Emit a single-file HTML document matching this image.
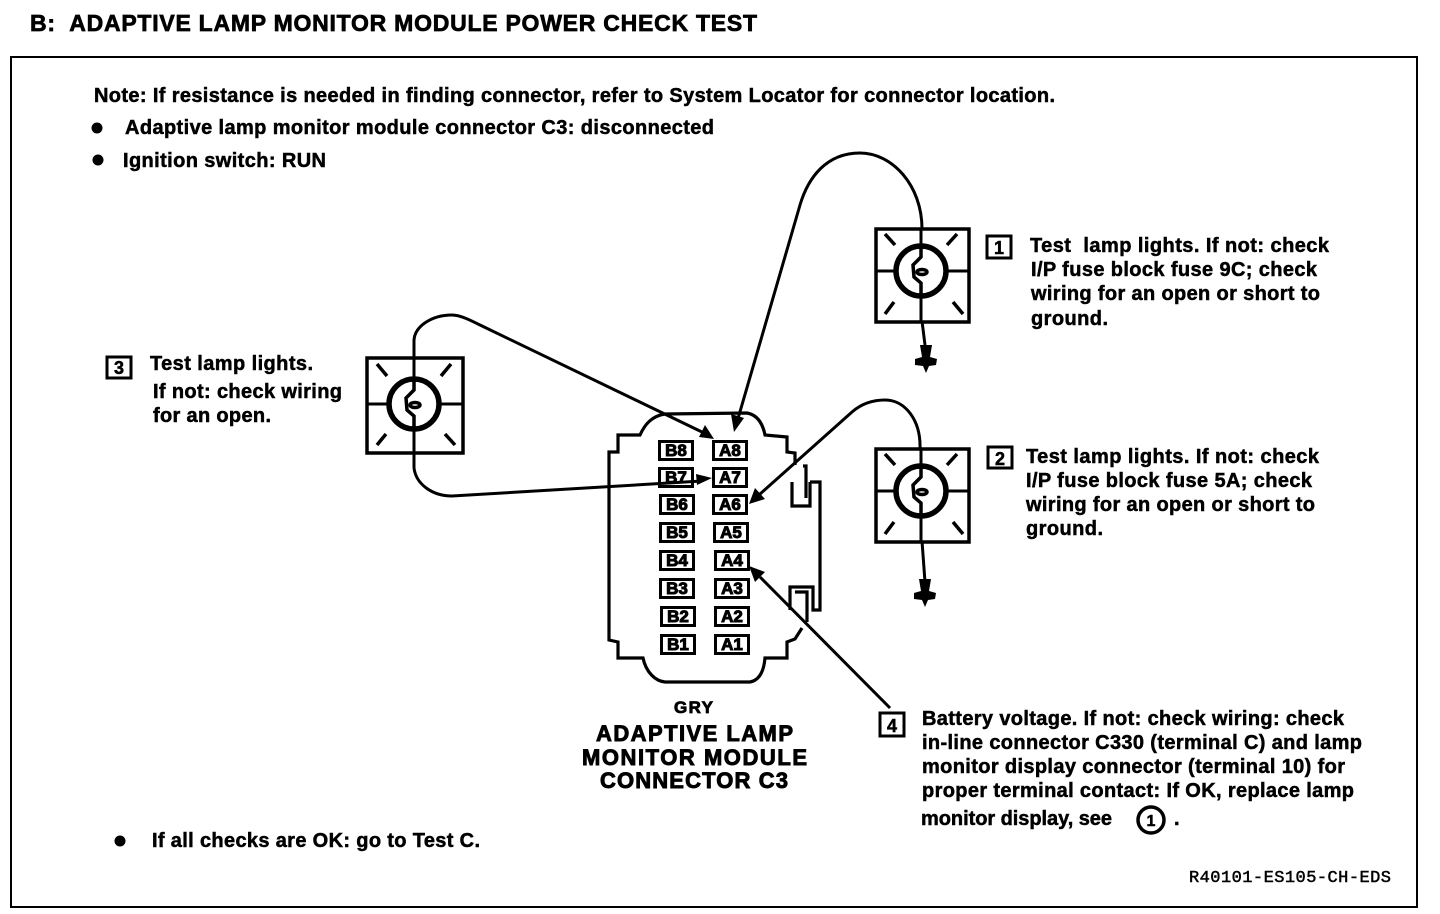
<!DOCTYPE html>
<html><head><meta charset="utf-8"><style>
html,body{margin:0;padding:0;background:#fff;width:1440px;height:914px;overflow:hidden}
svg{display:block}
text{font-family:"Liberation Sans",sans-serif;font-weight:bold;fill:#000;font-size:20px;stroke:#000;stroke-width:.5;white-space:pre}
.pin{font-size:17px;text-anchor:middle;stroke-width:1}
.cap{font-size:22px;stroke-width:.9}
</style></head><body>
<svg width="1440" height="914" viewBox="0 0 1440 914" xmlns="http://www.w3.org/2000/svg">
<defs>
<g id="inner" fill="none" stroke="#000">
<circle cx="0" cy="0" r="25" stroke-width="5.5"/>
<path d="M0,-25V-14L-8,-6L-7,6L0,12V25" stroke-width="3.5"/>
<ellipse cx="1" cy="1" rx="5" ry="2.5" stroke-width="3.5"/>
</g>
<path id="gnd" d="M-6,-6L6,-6L4,6L11,8L10,14L3,15L0,22L-3,15L-11,14L-11,8L-4,6Z" fill="#000"/>
</defs>
<rect x="11" y="57" width="1406" height="850" fill="none" stroke="#000" stroke-width="2"/>

<text x="30" y="31" style="font-size:23px;stroke-width:.7" textLength="727" xml:space="preserve">B:  ADAPTIVE LAMP MONITOR MODULE POWER CHECK TEST</text>
<text x="94" y="102" textLength="961">Note: If resistance is needed in finding connector, refer to System Locator for connector location.</text>
<circle cx="97" cy="128" r="5.5"/>
<text x="125" y="134" textLength="589">Adaptive lamp monitor module connector C3: disconnected</text>
<circle cx="98" cy="160" r="5.5"/>
<text x="123" y="167" textLength="203">Ignition switch: RUN</text>

<!-- Lamps -->
<g fill="none" stroke="#000">
<g id="lampA">
<rect x="876" y="229" width="93" height="93" stroke-width="3.5"/>
<path d="M876,271H896M946,271H969" stroke-width="3"/>
<path d="M885,234L895,245M957,234L947,245M885,314L894,302M963,314L953,302" stroke-width="3.5"/>
<path d="M921,229V246M921,296V322" stroke-width="3"/>
</g>
<g>
<rect x="876" y="449" width="93" height="93" stroke-width="3.5"/>
<path d="M876,491H896M946,491H969" stroke-width="3"/>
<path d="M885,454L895,465M957,454L947,465M885,534L894,522M963,534L953,522" stroke-width="3.5"/>
<path d="M921,449V466M921,516V542" stroke-width="3"/>
</g>
<g>
<rect x="367" y="358" width="96" height="95" stroke-width="3.5"/>
<path d="M367,404H389M439,404H463" stroke-width="3"/>
<path d="M377,364L387,376M451,364L441,376M377,445L386,434M455,445L445,434" stroke-width="3.5"/>
<path d="M414,358V379M414,429V453" stroke-width="3"/>
</g>
</g>
<use href="#inner" x="921" y="271"/>
<use href="#inner" x="921" y="491"/>
<use href="#inner" x="414" y="404"/>
<path d="M922,321L925,345" stroke="#000" stroke-width="3" fill="none"/>
<use href="#gnd" x="926" y="351"/>
<path d="M922,541L925,582" stroke="#000" stroke-width="3" fill="none"/>
<use href="#gnd" x="925" y="585"/>

<!-- Connector -->
<g fill="none" stroke="#000" stroke-width="3.2">
<path d="M795,465V453L787,452V437L765,435C763,425 758,415 747,413L665,414C652,416 645,424 640,435H618V452H609V640L618,642V658H643C646,672 655,681 665,682H750C760,680 764,670 765,658H787V642L795,639L802,628"/>
<path d="M792,482V506H810V482M803,466H806V498"/>
<path d="M810,482H820V610H813V587H790V610M795,592H807V622"/>
</g>
<!-- Pins -->
<g fill="#000">
<rect x="658" y="440" width="36" height="21"/><rect x="712" y="440" width="36" height="21"/>
<rect x="658" y="467" width="36" height="21"/><rect x="712" y="467" width="36" height="21"/>
<rect x="659" y="494" width="36" height="21"/><rect x="712" y="494" width="36" height="21"/>
<rect x="659" y="522" width="36" height="21"/><rect x="713" y="522" width="36" height="21"/>
<rect x="659" y="550" width="36" height="21"/><rect x="714" y="550" width="36" height="21"/>
<rect x="659" y="578" width="36" height="21"/><rect x="714" y="578" width="36" height="21"/>
<rect x="660" y="606" width="36" height="21"/><rect x="714" y="606" width="36" height="21"/>
<rect x="660" y="634" width="36" height="21"/><rect x="714" y="634" width="36" height="21"/>
</g>
<g fill="#fff">
<rect x="661" y="443" width="30" height="15"/><rect x="715" y="443" width="30" height="15"/>
<rect x="661" y="470" width="30" height="15"/><rect x="715" y="470" width="30" height="15"/>
<rect x="662" y="497" width="30" height="15"/><rect x="715" y="497" width="30" height="15"/>
<rect x="662" y="525" width="30" height="15"/><rect x="716" y="525" width="30" height="15"/>
<rect x="662" y="553" width="30" height="15"/><rect x="717" y="553" width="30" height="15"/>
<rect x="662" y="581" width="30" height="15"/><rect x="717" y="581" width="30" height="15"/>
<rect x="663" y="609" width="30" height="15"/><rect x="717" y="609" width="30" height="15"/>
<rect x="663" y="637" width="30" height="15"/><rect x="717" y="637" width="30" height="15"/>
</g>
<text class="pin" x="676" y="456">B8</text><text class="pin" x="730" y="456">A8</text>
<text class="pin" x="676" y="483">B7</text><text class="pin" x="730" y="483">A7</text>
<text class="pin" x="677" y="510">B6</text><text class="pin" x="730" y="510">A6</text>
<text class="pin" x="677" y="538">B5</text><text class="pin" x="731" y="538">A5</text>
<text class="pin" x="677" y="566">B4</text><text class="pin" x="732" y="566">A4</text>
<text class="pin" x="677" y="594">B3</text><text class="pin" x="732" y="594">A3</text>
<text class="pin" x="678" y="622">B2</text><text class="pin" x="732" y="622">A2</text>
<text class="pin" x="678" y="650">B1</text><text class="pin" x="732" y="650">A1</text>

<!-- Wires -->
<g fill="none" stroke="#000" stroke-width="3">
<path d="M922,229C922,185 892,153 860,153C826,153 808,178 800,205L737,422"/>
<path d="M414,357V340C415,326 432,315 452,315C460,315 470,320 480,325L702,432"/>
<path d="M414,451V468C416,484 432,496 452,496L702,481"/>
<path d="M920,449C921,420 905,400 885,400C870,400 860,405 852,412L760,494"/>
<path d="M890,708L760,577"/>
</g>
<g fill="#000">
<polygon points="734,432 731,414 744,418"/>
<polygon points="714,439 699,437 705,425"/>
<polygon points="712,478 696,474 697,485"/>
<polygon points="749,504 755,488 765,499"/>
<polygon points="749,566 765,572 755,582"/>
</g>

<!-- Callout boxes -->
<g fill="none" stroke="#000" stroke-width="3">
<rect x="987" y="236" width="24" height="22"/>
<rect x="988" y="447" width="24" height="21"/>
<rect x="107" y="357" width="24" height="21"/>
<rect x="880" y="713" width="24" height="23"/>
</g>
<text x="999" y="254" style="text-anchor:middle;font-size:18px">1</text>
<text x="1000" y="465" style="text-anchor:middle;font-size:18px">2</text>
<text x="119" y="374" style="text-anchor:middle;font-size:18px">3</text>
<text x="892" y="732" style="text-anchor:middle;font-size:18px">4</text>

<text x="1030" y="252" textLength="299" xml:space="preserve">Test  lamp lights. If not: check</text>
<text x="1031" y="276" textLength="286">I/P fuse block fuse 9C; check</text>
<text x="1031" y="300" textLength="289">wiring for an open or short to</text>
<text x="1031" y="325" textLength="77">ground.</text>

<text x="1026" y="463" textLength="293">Test lamp lights. If not: check</text>
<text x="1026" y="487" textLength="286">I/P fuse block fuse 5A; check</text>
<text x="1026" y="511" textLength="289">wiring for an open or short to</text>
<text x="1026" y="535" textLength="77">ground.</text>

<text x="150" y="370" textLength="163">Test lamp lights.</text>
<text x="153" y="398" textLength="189">If not: check wiring</text>
<text x="153" y="422" textLength="118">for an open.</text>

<text x="922" y="725" textLength="422">Battery voltage. If not: check wiring: check</text>
<text x="922" y="749" textLength="440">in-line connector C330 (terminal C) and lamp</text>
<text x="922" y="773" textLength="423">monitor display connector (terminal 10) for</text>
<text x="922" y="797" textLength="432">proper terminal contact: If OK, replace lamp</text>
<text x="921" y="825" textLength="191">monitor display, see</text>
<circle cx="1151" cy="820" r="13" fill="none" stroke="#000" stroke-width="3.5"/>
<text x="1151" y="826" style="text-anchor:middle;font-size:16px">1</text>
<text x="1174" y="825">.</text>

<text x="674" y="713" style="font-size:17px;stroke-width:.8" textLength="39">GRY</text>
<text class="cap" x="596" y="741" textLength="197">ADAPTIVE LAMP</text>
<text class="cap" x="582" y="765" textLength="225">MONITOR MODULE</text>
<text class="cap" x="600" y="788" textLength="188">CONNECTOR C3</text>

<circle cx="120" cy="841" r="5.5"/>
<text x="152" y="847" textLength="328">If all checks are OK: go to Test C.</text>
<text x="1189" y="882" style="font-size:17px;font-weight:normal;font-family:'Liberation Mono',monospace;stroke-width:.5" textLength="202">R40101-ES105-CH-EDS</text>
</svg>
</body></html>
